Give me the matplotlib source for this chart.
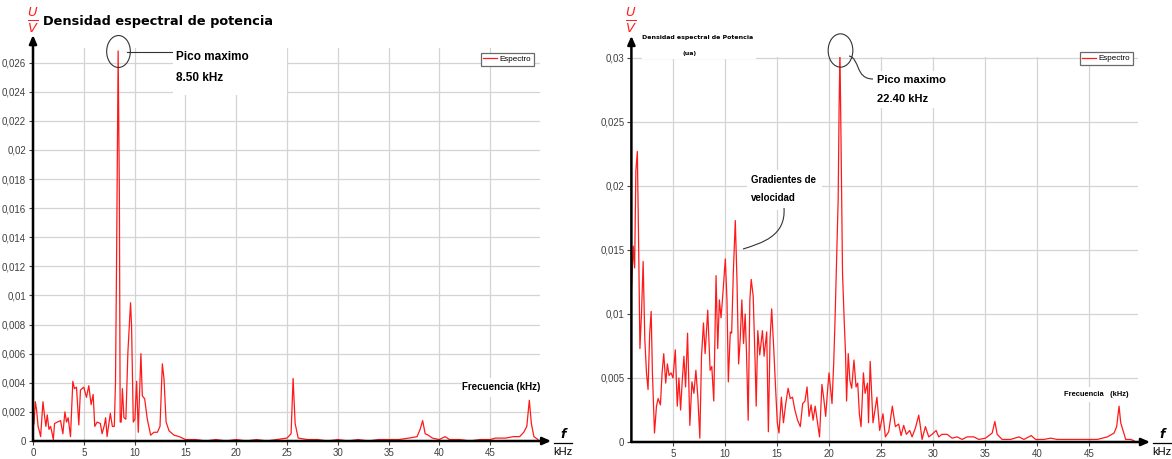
import matplotlib
matplotlib.use("Agg")
import matplotlib.pyplot as plt
from matplotlib.lines import Line2D
from matplotlib.path import Path
from matplotlib.patches import PathPatch, Rectangle
from matplotlib.transforms import Affine2D
from matplotlib.ticker import FuncFormatter

# ---------------- data ----------------
left_freq = [0.0, 0.1, 0.23, 0.36, 0.5, 0.62, 0.75, 0.98, 1.14, 1.27, 1.4, 1.57, 1.73, 1.86,
             2.0, 2.12, 2.39, 2.71, 2.94, 3.14, 3.3, 3.46, 3.69, 3.92, 4.08, 4.28, 4.51, 4.67,
             5.0, 5.26, 5.49, 5.72, 5.92, 6.08, 6.31, 6.63, 6.8, 7.03, 7.15, 7.29, 7.61, 7.81,
             8.0, 8.12, 8.22, 8.38, 8.5, 8.58, 8.68, 8.8, 8.95, 9.14, 9.34, 9.6, 9.7, 9.87,
             10.03, 10.2, 10.36, 10.49, 10.62, 10.76, 10.99, 11.25, 11.58, 11.9, 12.24, 12.5,
             12.73, 12.89, 13.1, 13.39, 13.88, 14.4, 15.0, 16.0, 17.0, 18.0, 19.0, 20.0, 21.0,
             22.0, 23.0, 24.0, 25.0, 25.4, 25.6, 25.8, 26.1, 27.0, 28.0, 29.0, 30.0, 31.0, 32.0,
             33.0, 34.0, 35.0, 36.0, 37.0, 37.8, 38.1, 38.35, 38.6, 38.9, 39.3, 40.0, 40.55,
             41.0, 42.0, 43.0, 44.0, 45.0, 45.5, 46.5, 47.3, 47.9, 48.3, 48.6, 48.85, 49.05,
             49.3, 49.7]
left_psd = [0.0010, 0.0012, 0.0027, 0.0021, 0.0010, 0.0007, 0.0003, 0.0027, 0.0017, 0.0010,
            0.0018, 0.0008, 0.0010, 0.0006, 0.0001, 0.0012, 0.0013, 0.0014, 0.0005, 0.0020,
            0.0013, 0.0016, 0.0003, 0.0041, 0.0036, 0.0037, 0.0011, 0.0035, 0.0037, 0.0030,
            0.0038, 0.0025, 0.0032, 0.0010, 0.0013, 0.0012, 0.0005, 0.0011, 0.0016, 0.0003,
            0.0019, 0.0010, 0.0010, 0.0040, 0.0120, 0.0268, 0.0170, 0.0013, 0.0013, 0.0036,
            0.0016, 0.0015, 0.0061, 0.0095, 0.0079, 0.0013, 0.0015, 0.0041, 0.0006, 0.0033,
            0.0060, 0.0031, 0.0029, 0.0015, 0.0004, 0.0006, 0.0006, 0.0010, 0.0053, 0.0043,
            0.0013, 0.0007, 0.0004, 0.0003, 0.0001, 0.0001, 0.0000, 0.0001, 0.0000, 0.0001,
            0.0000, 0.0001, 0.0000, 0.0001, 0.0002, 0.0005, 0.0043, 0.0012, 0.0002, 0.0001,
            0.0001, 0.0000, 0.0001, 0.0000, 0.0001, 0.0000, 0.0001, 0.0001, 0.0001, 0.0002,
            0.0003, 0.0008, 0.0014, 0.0005, 0.0004, 0.0002, 0.0001, 0.0003, 0.0001, 0.0001,
            0.0000, 0.0001, 0.0001, 0.0002, 0.0002, 0.0003, 0.0003, 0.0006, 0.0010, 0.0028,
            0.0012, 0.0003, 0.0001]

right_freq = [1.0, 1.18, 1.31, 1.43, 1.57, 1.69, 1.82, 1.97, 2.13, 2.29, 2.45, 2.6, 2.76, 2.9,
              3.02, 3.22, 3.41, 3.57, 3.79, 3.95, 4.11, 4.3, 4.46, 4.62, 4.81, 5.0, 5.22, 5.41,
              5.57, 5.73, 5.89, 6.05, 6.21, 6.4, 6.62, 6.82, 7.01, 7.2, 7.39, 7.58, 7.74, 7.93,
              8.09, 8.34, 8.57, 8.73, 8.92, 9.14, 9.3, 9.46, 9.62, 9.78, 10.03, 10.19, 10.32,
              10.51, 10.64, 10.8, 10.99, 11.15, 11.31, 11.46, 11.62, 11.78, 11.94, 12.07, 12.23,
              12.39, 12.52, 12.71, 12.9, 13.0, 13.15, 13.34, 13.6, 13.76, 14.01, 14.17, 14.33,
              14.49, 14.71, 14.87, 15.03, 15.19, 15.42, 15.62, 15.84, 16.07, 16.27, 16.49,
              16.72, 16.98, 17.24, 17.47, 17.69, 17.89, 18.08, 18.28, 18.47, 18.67, 18.86,
              19.09, 19.32, 19.51, 19.68, 19.84, 20.0, 20.16, 20.29, 20.45, 20.58, 20.71, 20.88,
              20.97, 21.05, 21.15, 21.3, 21.46, 21.59, 21.69, 21.85, 22.01, 22.18, 22.4, 22.6,
              22.76, 22.92, 23.08, 23.31, 23.47, 23.7, 23.8, 23.96, 24.23, 24.61, 24.87, 25.19,
              25.42, 25.74, 26.09, 26.38, 26.7, 26.93, 27.18, 27.44, 27.76, 27.99, 28.31, 28.63,
              28.79, 28.95, 29.27, 29.59, 29.91, 30.3, 30.55, 30.87, 31.36, 31.84, 32.32, 32.8,
              33.28, 33.92, 34.41, 35.05, 35.69, 35.95, 36.17, 36.65, 37.46, 38.26, 38.74, 39.45,
              39.86, 40.67, 41.31, 41.95, 42.91, 43.88, 44.84, 45.8, 46.77, 47.41, 47.66, 47.89,
              48.05, 48.31, 48.53, 49.01, 49.33]
right_psd = [0.0118, 0.0153, 0.0136, 0.0212, 0.0227, 0.0158, 0.0073, 0.0100, 0.0141, 0.0080,
             0.0054, 0.0041, 0.0085, 0.0102, 0.0054, 0.0007, 0.0028, 0.0034, 0.0029, 0.0054,
             0.0069, 0.0046, 0.0061, 0.0052, 0.0054, 0.0050, 0.0072, 0.0028, 0.0050, 0.0025,
             0.0048, 0.0067, 0.0043, 0.0085, 0.0013, 0.0047, 0.0038, 0.0056, 0.0035, 0.0003,
             0.0067, 0.0093, 0.0069, 0.0103, 0.0056, 0.0059, 0.0032, 0.0130, 0.0073, 0.0111,
             0.0097, 0.0114, 0.0143, 0.0111, 0.0047, 0.0086, 0.0085, 0.0132, 0.0173, 0.0127,
             0.0061, 0.0080, 0.0111, 0.0077, 0.0100, 0.0069, 0.0017, 0.0111, 0.0127, 0.0114,
             0.0061, 0.0028, 0.0087, 0.0068, 0.0087, 0.0067, 0.0086, 0.0008, 0.0080, 0.0104,
             0.0069, 0.0041, 0.0015, 0.0007, 0.0035, 0.0015, 0.0030, 0.0042, 0.0034, 0.0035,
             0.0025, 0.0017, 0.0012, 0.0030, 0.0032, 0.0043, 0.0020, 0.0029, 0.0017, 0.0028,
             0.0017, 0.0004, 0.0045, 0.0033, 0.0020, 0.0038, 0.0054, 0.0041, 0.0030, 0.0061,
             0.0095, 0.0137, 0.0189, 0.0260, 0.0306, 0.0240, 0.0132, 0.0095, 0.0069, 0.0032,
             0.0069, 0.0048, 0.0042, 0.0064, 0.0043, 0.0046, 0.0022, 0.0012, 0.0054, 0.0038,
             0.0046, 0.0015, 0.0063, 0.0015, 0.0035, 0.0009, 0.0022, 0.0004, 0.0008, 0.0028,
             0.0012, 0.0014, 0.0005, 0.0013, 0.0006, 0.0009, 0.0004, 0.0011, 0.0021, 0.0012,
             0.0002, 0.0012, 0.0004, 0.0006, 0.0009, 0.0004, 0.0006, 0.0006, 0.0003, 0.0004,
             0.0002, 0.0004, 0.0004, 0.0002, 0.0003, 0.0007, 0.0016, 0.0006, 0.0002, 0.0002,
             0.0004, 0.0002, 0.0005, 0.0002, 0.0002, 0.0003, 0.0002, 0.0002, 0.0002, 0.0002,
             0.0002, 0.0004, 0.0007, 0.0012, 0.0028, 0.0015, 0.0008, 0.0002, 0.0002, 0.0001]

left_yticks = [0.0, 0.002, 0.004, 0.006, 0.008, 0.010, 0.012, 0.014, 0.016, 0.018, 0.020,
               0.022, 0.024, 0.026]
right_yticks = [0.0, 0.005, 0.010, 0.015, 0.020, 0.025, 0.030]
left_xticks = [0, 5, 10, 15, 20, 25, 30, 35, 40, 45]
right_xticks = [5, 10, 15, 20, 25, 30, 35, 40, 45]

# ---------------- figure ----------------
W, H = 1172, 459
fig = plt.figure(figsize=(W / 100, H / 100), dpi=100)
# pixel coordinates measured from the top-left corner of the figure
px = Affine2D().scale(1 / W, -1 / H).translate(0, 1) + fig.transFigure

SANS = ["Liberation Sans", "DejaVu Sans"]
RED = "#ff1a1a"
GRID = "#d4d4d4"
TICKCOL = "#404040"


def comma_fmt(v, _pos):
    s = "{:g}".format(round(v, 6))
    return s.replace(".", ",")


def make_axes(rect, xlim, ylim, xticks, yticks, freq, psd, labelsize):
    ax = fig.add_axes(rect)
    ax.plot(freq, psd, color=RED, lw=0.9, label="Espectro", zorder=3)
    ax.set_xlim(*xlim)
    ax.set_ylim(*ylim)
    ax.set_xticks(xticks)
    ax.set_yticks(yticks)
    ax.yaxis.set_major_formatter(FuncFormatter(comma_fmt))
    ax.grid(True, color=GRID, lw=0.9, zorder=0)
    for s in ax.spines.values():
        s.set_visible(False)
    ax.tick_params(axis="both", length=3, width=0.8, color=TICKCOL, labelcolor=TICKCOL,
                   labelsize=labelsize, pad=2)
    for lab in ax.get_xticklabels() + ax.get_yticklabels():
        lab.set_family(SANS)
    return ax


arrow = dict(arrowstyle="-|>,head_length=0.5,head_width=0.22", lw=1.8, color="black",
             shrinkA=0, shrinkB=0)

# left panel: x 0..49.9 kHz at px 33..540, y 0..0.027 at px 441..48
axL = make_axes([33 / W, 1 - 441 / H, 507 / W, 393 / H], (0, 49.9), (0, 0.0270),
                left_xticks, left_yticks, left_freq, left_psd, 7.0)
axL.annotate("", xy=(0, 1.033), xytext=(0, 0), xycoords="axes fraction",
             arrowprops=arrow, annotation_clip=False)
axL.annotate("", xy=(1.022, 0), xytext=(0, 0), xycoords="axes fraction",
             arrowprops=arrow, annotation_clip=False)

# right panel: x 1..49.75 kHz at px 631.4..1138.4, y 0..0.0301 at px 442..56.7
axR = make_axes([631.4 / W, 1 - 442 / H, 507 / W, 385.3 / H], (1.0, 49.75), (0, 0.0301),
                right_xticks, right_yticks, right_freq, right_psd, 7.0)
axR.annotate("", xy=(0, 1.054), xytext=(0, 0), xycoords="axes fraction",
             arrowprops=arrow, annotation_clip=False)
axR.annotate("", xy=(1.023, 0), xytext=(0, 0), xycoords="axes fraction",
             arrowprops=arrow, annotation_clip=False)

# legends
for ax, anchor in ((axL, (534 / W, 1 - 52.5 / H)), (axR, (1133 / W, 1 - 52 / H))):
    leg = ax.legend(loc="upper right", bbox_to_anchor=anchor, bbox_transform=fig.transFigure,
                    handlelength=1.7, handletextpad=0.3, borderpad=0.35,
                    borderaxespad=0, fancybox=False, framealpha=1, edgecolor="#6a6a6a",
                    prop={"family": SANS, "size": 5.8})
    leg.get_frame().set_linewidth(0.9)

# peak markers: ellipse drawn around the maximum of each spectrum
ellipse = Path.unit_circle().transformed(Affine2D().scale(1.0, 1.35))
for ax, freq, psd, size in ((axL, left_freq, left_psd, 23), (axR, right_freq, right_psd, 24)):
    i = max(range(len(psd)), key=lambda k: psd[k])
    ax.plot([freq[i]], [psd[i]], marker=ellipse, ms=size, mfc="none", mec="#333333",
            mew=0.8, clip_on=False, zorder=5)

# white panels behind the annotation texts (they interrupt the grid)
for x0, y0, x1, y1 in ((173, 45, 287, 95), (642, 28, 756, 59), (874, 71, 946, 108),
                       (747, 170, 822, 210), (462, 378, 540, 397), (1060, 387, 1130, 402)):
    fig.add_artist(Rectangle((x0, y1), x1 - x0, y0 - y1, transform=px, facecolor="white",
                             edgecolor="none", zorder=2))

lab_kw = dict(family=SANS, weight="bold", color="black", transform=px, zorder=3)

# y-axis quantity (U/V) and titles
for x0 in (33, 631):
    fig.text(x0, 20, r"$\frac{U}{V}$", color="#ff2020", fontsize=13.5, ha="center",
             va="center", transform=px)
fig.text(43, 22, "Densidad espectral de potencia", family="DejaVu Sans", weight="bold",
         fontsize=9.3, ha="left", va="center", transform=px)
fig.text(642, 37, "Densidad espectral de Potencia", family="DejaVu Sans", weight="bold",
         fontsize=4.5, ha="left", va="center", transform=px, zorder=3)
fig.text(690, 54, "(ua)", family="DejaVu Sans", weight="bold", fontsize=4.5, ha="center",
         va="center", transform=px, zorder=3)

# left peak label
fig.text(176, 57, "Pico maximo", fontsize=8.5, ha="left", va="center", **lab_kw)
fig.text(176, 78, "8.50 kHz", fontsize=8.5, ha="left", va="center", **lab_kw)
fig.add_artist(Line2D([127, 172], [52, 52], color="#333333", lw=0.8, transform=px))

# right peak label
fig.text(877, 80, "Pico maximo", fontsize=8, ha="left", va="center", **lab_kw)
fig.text(877, 99, "22.40 kHz", fontsize=8, ha="left", va="center", **lab_kw)
fig.add_artist(PathPatch(Path([(849, 56), (860, 58), (855, 79), (873, 79)],
                              [Path.MOVETO, Path.CURVE4, Path.CURVE4, Path.CURVE4]),
                         fc="none", ec="#333333", lw=0.8, transform=px, zorder=3))

# velocity-gradient label
fig.text(751, 180, "Gradientes de", fontsize=7, ha="left", va="center", **lab_kw)
fig.text(751, 198, "velocidad", fontsize=7, ha="left", va="center", **lab_kw)
fig.add_artist(PathPatch(Path([(784, 208), (786, 236), (762, 243), (743, 249)],
                              [Path.MOVETO, Path.CURVE4, Path.CURVE4, Path.CURVE4]),
                         fc="none", ec="#333333", lw=0.8, transform=px, zorder=3))

# frequency axis captions
fig.text(501, 387, "Frecuencia (kHz)", fontsize=7, ha="center", va="center", **lab_kw)
fig.text(1096, 395, "Frecuencia   (kHz)", fontsize=5.4, ha="center", va="center", **lab_kw)

for xc in (563, 1162):
    fig.text(xc, 434, "f", fontsize=9, style="italic", weight="bold", ha="center",
             va="center", transform=px, family="DejaVu Sans")
    fig.add_artist(Line2D([xc - 9, xc + 9], [443, 443], color="black", lw=0.9, transform=px))
    fig.text(xc, 452, "kHz", fontsize=8, ha="center", va="center", transform=px,
             family=SANS)

fig.savefig("out.png", dpi=100)
